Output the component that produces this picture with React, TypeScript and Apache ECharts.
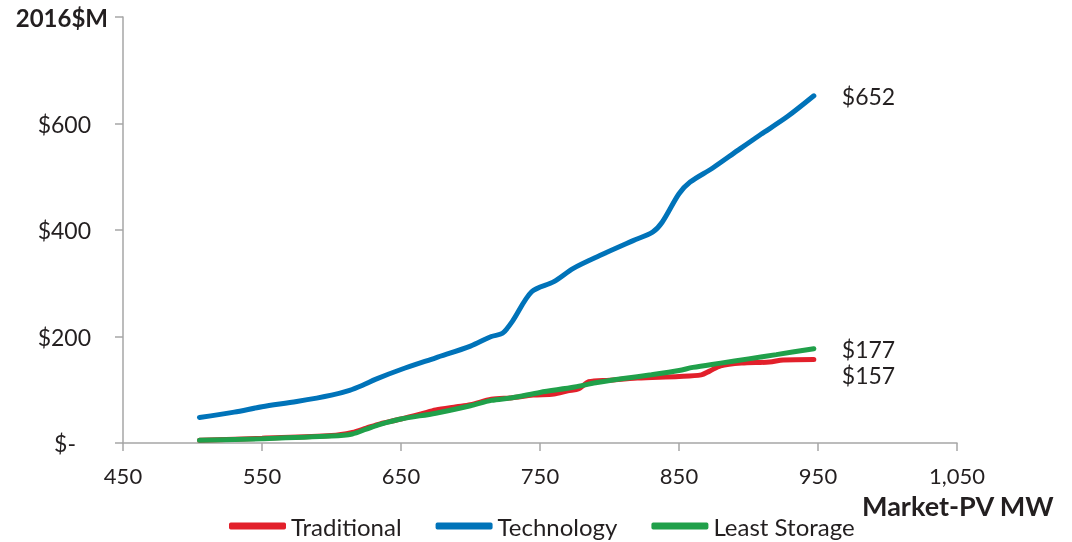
import React, { useEffect, useRef } from "react";
import * as echarts from "echarts";

const xTicks = [450, 550, 650, 750, 850, 950, 1050];
const yTicks = [0, 200, 400, 600, 800];

const techX = [505, 530, 550, 575, 600, 613, 622, 632, 650, 675, 700, 715, 723, 730, 744, 760, 774, 793, 817, 831, 838, 850, 858, 874, 892, 908, 928, 947];
const techY = [48, 58, 68, 78, 90, 99, 108, 120, 138, 160, 182, 200, 206, 228, 284, 303, 328, 352, 380, 396, 415, 468, 490, 516, 549, 578, 613, 652];

const tradX = [505, 550, 600, 615, 625, 635, 650, 665, 675, 690, 700, 715, 730, 745, 760, 770, 778, 785, 800, 820, 850, 866, 872, 880, 895, 915, 925, 947];
const tradY = [5, 9, 14, 20, 28, 36, 45, 55, 62, 68, 72, 82, 85, 90, 92, 98, 102, 115, 118, 122, 125, 128, 135, 145, 150, 152, 156, 157];

const leastX = [505, 550, 600, 615, 625, 635, 650, 675, 700, 715, 730, 750, 775, 790, 810, 830, 850, 860, 880, 900, 920, 947];
const leastY = [5, 8, 13, 17, 26, 35, 45, 56, 70, 80, 85, 95, 105, 113, 121, 128, 136, 142, 150, 158, 166, 177];

const seriesNames = ["Traditional", "Technology", "Least Storage"];
const colors = ["#e2202b", "#0073b9", "#20a04a"];

const FONT = "Lato, 'Open Sans', sans-serif";
const TEXT = "#231f20";

function pairs(xs: number[], ys: number[]) {
  return xs.map((x, i) => [x, ys[i]]);
}

export default function App() {
  const ref = useRef<HTMLDivElement>(null);
  useEffect(() => {
    if (!ref.current) return;
    const chart = echarts.init(ref.current, null, { renderer: "svg" });
    const mk = (name: string, data: number[][], color: string, offset: number[]) => ({
      name,
      type: "line",
      data,
      smooth: 0.3,
      showSymbol: false,
      symbol: "none",
      lineStyle: { width: 5, color, cap: "round" },
      itemStyle: { color },
      endLabel: {
        show: true,
        distance: 28,
        offset,
        color: TEXT,
        fontFamily: FONT,
        fontSize: 23,
        formatter: (p: any) => "$" + p.value[1],
      },
    });
    chart.setOption({
      animation: false,
      textStyle: { fontFamily: FONT },
      grid: { left: 123, right: 115, top: 17, bottom: 99, containLabel: false },
      legend: {
        data: seriesNames,
        left: 224,
        top: 509,
        itemWidth: 57,
        itemHeight: 7,
        itemGap: 34,
        icon: "roundRect",
        textStyle: { color: TEXT, fontSize: 24, fontFamily: FONT },
      },
      xAxis: {
        type: "value",
        min: xTicks[0],
        max: xTicks[xTicks.length - 1],
        interval: 100,
        axisLine: { lineStyle: { color: "#a6a6a6", width: 1.5 } },
        axisTick: { show: true, length: 8, lineStyle: { color: "#a6a6a6", width: 1.5 } },
        splitLine: { show: false },
        axisLabel: {
          color: TEXT,
          fontSize: 22,
          fontFamily: FONT,
          margin: 21,
          formatter: (v: number) => v.toLocaleString("en-US"),
        },
      },
      yAxis: {
        type: "value",
        min: yTicks[0],
        max: yTicks[yTicks.length - 1],
        interval: 200,
        name: "2016$M",
        nameLocation: "end",
        nameGap: 0,
        nameTextStyle: {
          color: TEXT,
          fontSize: 24,
          fontWeight: "bold",
          fontFamily: FONT,
          align: "right",
          verticalAlign: "middle",
          padding: [0, 15, 0, 0],
        },
        axisLine: { show: true, lineStyle: { color: "#a6a6a6", width: 1.5 } },
        axisTick: { show: true, length: 8, lineStyle: { color: "#a6a6a6", width: 1.5 } },
        splitLine: { show: false },
        axisLabel: {
          color: TEXT,
          fontSize: 23,
          fontFamily: FONT,
          margin: 32,
          formatter: (v: number) => {
            if (v === 800) return "";
            if (v === 0) return "{z|$-}";
            return "$" + v;
          },
          rich: { z: { color: TEXT, fontSize: 23, fontFamily: FONT, padding: [0, 15, 0, 0] } },
        },
      },
      graphic: [
        {
          type: "text",
          left: 862,
          top: 492,
          style: { text: "Market-PV MW", fill: TEXT, fontSize: 27, fontWeight: "bold", fontFamily: FONT },
        },
      ],
      series: [
        mk(seriesNames[0], pairs(tradX, tradY), colors[0], [0, 16]),
        mk(seriesNames[1], pairs(techX, techY), colors[1], [0, 0]),
        mk(seriesNames[2], pairs(leastX, leastY), colors[2], [0, 0]),
      ],
    });
    return () => chart.dispose();
  }, []);
  return (
    <div
      ref={ref}
      style={{ position: "fixed", left: 0, top: 0, width: 1072, height: 542 }}
    />
  );
}
